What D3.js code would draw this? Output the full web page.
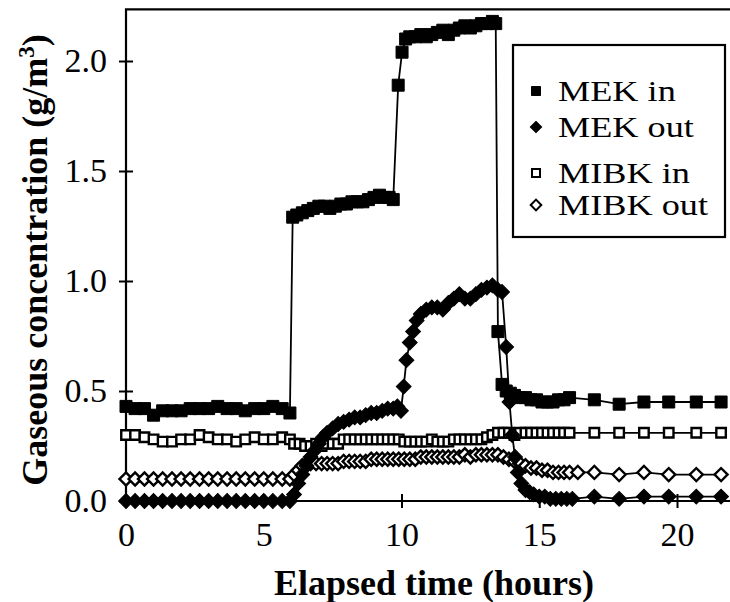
<!DOCTYPE html>
<html><head><meta charset="utf-8">
<script src="https://cdn.jsdelivr.net/npm/d3@7"></script>
<style>body{margin:0;background:#fff} text{font-family:"Liberation Serif","Times New Roman",Tinos,"DejaVu Serif",serif;}</style>
</head><body><svg id="c" width="730" height="602"></svg>
<script>
// ---------- data (hours, g/m3) ----------
const mekInTime = [0,0.33,0.67,1.0,1.33,1.67,2.0,2.33,2.67,3.0,3.33,3.67,4.0,4.33,4.67,5.0,5.33,5.67,5.95,
  6.05,6.2,6.4,6.6,6.8,7.0,7.2,7.4,7.6,7.8,8.0,8.2,8.4,8.6,8.8,9.0,9.2,9.4,9.55,9.7,
  9.88,10.02,10.15,10.3,10.5,10.7,10.9,11.1,11.3,11.5,11.7,11.9,12.1,12.3,12.5,12.7,12.9,13.1,13.3,13.42,
  13.5,13.65,13.8,13.95,14.1,14.3,14.5,14.7,14.9,15.1,15.3,15.5,15.7,15.9,16.1,
  17.0,17.9,18.8,19.7,20.7,21.6];
const mekInValue = [0.43,0.42,0.42,0.39,0.41,0.41,0.41,0.42,0.42,0.42,0.43,0.42,0.42,0.41,0.42,0.42,0.43,0.42,0.40,
  1.29,1.30,1.31,1.32,1.33,1.34,1.34,1.33,1.34,1.35,1.35,1.36,1.36,1.36,1.37,1.38,1.39,1.38,1.38,1.37,
  1.89,2.04,2.10,2.11,2.11,2.12,2.11,2.12,2.13,2.14,2.12,2.14,2.15,2.16,2.15,2.16,2.17,2.17,2.18,2.17,
  0.77,0.53,0.50,0.49,0.48,0.47,0.47,0.46,0.46,0.45,0.45,0.45,0.46,0.46,0.47,
  0.46,0.44,0.45,0.45,0.45,0.45];

const mekOutTime = [0,0.33,0.67,1.0,1.33,1.67,2.0,2.33,2.67,3.0,3.33,3.67,4.0,4.33,4.67,5.0,5.33,5.67,5.95,
  6.1,6.25,6.4,6.55,6.7,6.85,7.0,7.15,7.3,7.5,7.7,7.9,8.1,8.3,8.5,8.7,8.9,9.1,9.3,9.5,9.7,9.85,9.98,
  10.08,10.18,10.3,10.42,10.55,10.7,10.9,11.1,11.3,11.5,11.7,11.9,12.1,12.3,12.5,12.7,12.9,13.1,13.3,13.5,13.65,13.8,
  13.92,14.02,14.12,14.22,14.35,14.5,14.65,14.8,15.0,15.2,15.4,15.6,15.8,16.0,16.2,
  17.0,17.9,18.8,19.7,20.7,21.6];
const mekOutValue = [0,0,0,0,0,0,0,0,0,0,0,0,0,0,0,0,0,0,0,
  0.03,0.08,0.12,0.16,0.20,0.23,0.26,0.29,0.31,0.33,0.35,0.36,0.37,0.38,0.38,0.39,0.40,0.40,0.41,0.42,0.42,0.43,0.41,
  0.52,0.64,0.72,0.77,0.82,0.85,0.87,0.88,0.88,0.87,0.90,0.92,0.94,0.92,0.92,0.94,0.96,0.97,0.98,0.96,0.95,0.70,
  0.45,0.30,0.20,0.13,0.08,0.05,0.04,0.03,0.02,0.02,0.01,0.01,0.01,0.01,0.01,
  0.02,0.01,0.02,0.02,0.02,0.02];

const mibkInTime = [0,0.33,0.67,1.0,1.33,1.67,2.0,2.33,2.67,3.0,3.33,3.67,4.0,4.33,4.67,5.0,5.33,5.67,5.95,
  6.1,6.3,6.5,6.7,6.9,7.1,7.3,7.5,7.7,7.9,8.1,8.3,8.5,8.7,8.9,9.1,9.3,9.5,9.7,9.9,
  10.1,10.3,10.5,10.7,10.9,11.1,11.3,11.5,11.7,11.9,12.1,12.3,12.5,12.7,12.9,13.1,13.3,13.5,13.7,13.9,
  14.1,14.3,14.5,14.7,14.9,15.1,15.3,15.5,15.7,15.9,16.1,
  17.0,17.9,18.8,19.7,20.7,21.6];
const mibkInValue = [0.30,0.30,0.29,0.28,0.27,0.27,0.28,0.28,0.30,0.29,0.28,0.28,0.27,0.28,0.29,0.28,0.28,0.29,0.28,
  0.26,0.26,0.25,0.25,0.26,0.25,0.26,0.26,0.26,0.28,0.28,0.28,0.28,0.28,0.28,0.28,0.28,0.28,0.28,0.28,
  0.27,0.27,0.27,0.27,0.27,0.28,0.27,0.27,0.27,0.28,0.28,0.28,0.28,0.28,0.28,0.29,0.30,0.31,0.31,0.31,
  0.30,0.31,0.31,0.31,0.31,0.31,0.31,0.31,0.31,0.31,0.31,
  0.31,0.31,0.31,0.31,0.31,0.31];

const mibkOutTime = [0,0.33,0.67,1.0,1.33,1.67,2.0,2.33,2.67,3.0,3.33,3.67,4.0,4.33,4.67,5.0,5.33,5.67,5.95,
  6.1,6.25,6.4,6.55,6.7,6.9,7.1,7.3,7.5,7.7,7.9,8.1,8.3,8.5,8.7,8.9,9.1,9.3,9.5,9.7,9.9,
  10.1,10.3,10.5,10.7,10.9,11.1,11.3,11.5,11.7,11.9,12.1,12.3,12.5,12.7,12.9,13.1,13.3,13.5,13.7,13.9,
  14.1,14.3,14.5,14.7,14.9,15.1,15.3,15.5,15.7,15.9,16.1,16.4,
  17.0,17.9,18.8,19.7,20.7,21.6];
const mibkOutValue = [0.10,0.10,0.10,0.10,0.10,0.10,0.10,0.10,0.10,0.10,0.10,0.10,0.10,0.10,0.10,0.10,0.10,0.10,0.10,
  0.12,0.14,0.16,0.17,0.17,0.17,0.17,0.17,0.17,0.17,0.18,0.18,0.18,0.18,0.18,0.19,0.19,0.19,0.19,0.19,0.19,
  0.19,0.19,0.19,0.20,0.20,0.20,0.20,0.20,0.20,0.20,0.20,0.21,0.20,0.21,0.21,0.21,0.21,0.21,0.20,0.19,
  0.18,0.17,0.16,0.15,0.15,0.14,0.14,0.13,0.13,0.13,0.13,0.13,
  0.13,0.12,0.13,0.12,0.12,0.12];

const xTickValues = [0,5,10,15,20];
const yTickValues = [0,0.5,1.0,1.5,2.0];
const legendLabels = ["MEK in","MEK out","MIBK in","MIBK out"];
const xTitle = "Elapsed time (hours)";
const yTitle = "Gaseous concentration (g/m";

// ---------- drawing ----------
const svg = d3.select("#c");
const x = d3.scaleLinear().domain([0,20]).range([126,677]);
const y = d3.scaleLinear().domain([0,2]).range([501,61]);
const xMax = 21.95, yMax = 2.235;

svg.append("rect").attr("width",730).attr("height",602).attr("fill","#fff");

// frame
svg.append("path")
  .attr("d",`M${x(xMax)+5},${y(yMax)}H${x(0)}V${y(0)}H${x(xMax)+5}`)
  .attr("fill","none").attr("stroke","#000").attr("stroke-width",2.2);

// axes (outer and inner tick halves)
function styleAxis(g){
  g.attr("font-family",null).attr("font-size",null);
  g.select(".domain").remove();
  g.selectAll(".tick line").attr("stroke","#000").attr("stroke-width",2);
  g.selectAll(".tick text").style("font-size","34px").attr("fill","#000");
}
svg.append("g").attr("transform",`translate(${x(0)},0)`)
  .call(d3.axisLeft(y).tickValues(yTickValues).tickFormat(d3.format(".1f")).tickSize(7).tickPadding(12))
  .call(styleAxis);
svg.append("g").attr("transform",`translate(${x(0)},0)`)
  .call(d3.axisLeft(y).tickValues(yTickValues.filter(d=>d>0)).tickFormat("").tickSize(-7))
  .call(styleAxis);
svg.append("g").attr("transform",`translate(0,${y(0)})`)
  .call(d3.axisBottom(x).tickValues(xTickValues).tickFormat(d3.format("d")).tickSize(7).tickPadding(14))
  .call(styleAxis);
svg.append("g").attr("transform",`translate(0,${y(0)})`)
  .call(d3.axisBottom(x).tickValues(xTickValues.filter(d=>d>0)).tickFormat("").tickSize(-7))
  .call(styleAxis);

// titles
svg.append("text").attr("x",434).attr("y",595).attr("text-anchor","middle")
  .style("font-weight","bold").style("font-size","36px").text(xTitle);
const yt = svg.append("text").attr("transform","translate(47,260) rotate(-90)").attr("text-anchor","middle")
  .style("font-weight","bold").style("font-size","36px");
yt.append("tspan").text(yTitle);
yt.append("tspan").style("font-size","23px").attr("dy",-13).text("3");
yt.append("tspan").attr("dy",13).text(")");

// series
function zip(t,v){ return t.map((d,i)=>({t:d,v:v[i]})); }
const series = [
  {name:"MIBK in", data:zip(mibkInTime,mibkInValue), shape:"square", fill:"#fff", size:9.5},
  {name:"MIBK out", data:zip(mibkOutTime,mibkOutValue), shape:"diamond", fill:"#fff", size:9.2},
  {name:"MEK out", data:zip(mekOutTime,mekOutValue), shape:"diamond", fill:"#000", size:10.5},
  {name:"MEK in", data:zip(mekInTime,mekInValue), shape:"square", fill:"#000", size:12}
];
const line = d3.line().x(d=>x(d.t)).y(d=>y(d.v));
function marker(sel, s){
  const sym = d3.symbol().type(d3.symbolSquare).size(s.size*s.size);
  sel.append("path").attr("d",sym())
    .attr("transform",d=>`translate(${x(d.t)},${y(d.v)})${s.shape==="diamond"?" rotate(45)":""}`)
    .attr("fill",s.fill).attr("stroke","#000").attr("stroke-width",s.fill==="#fff"?2.4:1);
}
series.forEach(s=>{
  const g = svg.append("g");
  g.append("path").datum(s.data).attr("d",line).attr("fill","none").attr("stroke","#000").attr("stroke-width",1.8);
  g.selectAll("g").data(s.data).join("g").each(function(d){ marker(d3.select(this).datum(d), s); });
});

// legend
const lg = svg.append("g");
lg.append("rect").attr("x",513).attr("y",45).attr("width",212).attr("height",192)
  .attr("fill","#fff").attr("stroke","#000").attr("stroke-width",2.2);
const legendY = [91,127,173,205];
const legendStyle = [
  {shape:"square", fill:"#000", size:9},
  {shape:"diamond", fill:"#000", size:8},
  {shape:"square", fill:"#fff", size:8},
  {shape:"diamond", fill:"#fff", size:7.5}
];
legendLabels.forEach((lab,i)=>{
  const st = legendStyle[i];
  lg.append("path").attr("d",d3.symbol().type(d3.symbolSquare).size(st.size*st.size)())
    .attr("transform",`translate(536,${legendY[i]})${st.shape==="diamond"?" rotate(45)":""}`)
    .attr("fill",st.fill).attr("stroke","#000").attr("stroke-width",st.fill==="#fff"?2:1);
  lg.append("text").attr("transform",`translate(558,${legendY[i]+10}) scale(1.25,1)`)
    .style("font-size","29px").attr("fill","#000").text(lab);
});
</script></body></html>
